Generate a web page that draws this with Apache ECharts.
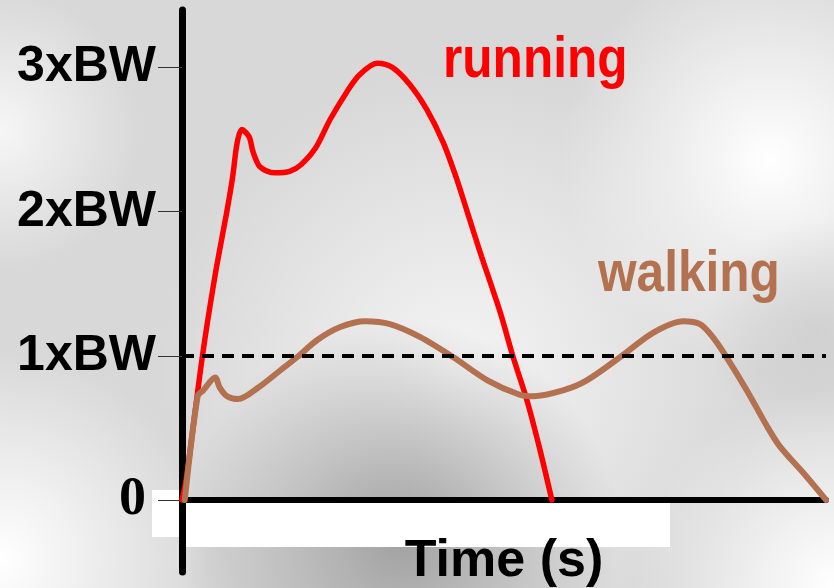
<!DOCTYPE html>
<html>
<head>
<meta charset="utf-8">
<script src="https://cdn.jsdelivr.net/npm/echarts@6/dist/echarts.min.js"></script>
<style>
  html, body { margin: 0; padding: 0; background: #d8d8d8; }
  #chart { width: 834px; height: 588px; }
</style>
</head>
<body>
<div id="chart"></div>
<script>
// ---- data (time in ms, force in multiples of body weight) ----
var runningTime  = [0, 5, 22, 36, 49, 55, 60, 65, 73, 77, 85, 101, 117, 130, 145, 161, 179, 193, 212, 229, 248, 266, 284, 299, 313, 324, 346, 360, 375, 389, 402];
var runningForce = [0, 0.16, 0.99, 1.56, 2.01, 2.24, 2.48, 2.57, 2.52, 2.42, 2.31, 2.27, 2.28, 2.33, 2.44, 2.64, 2.83, 2.95, 3.03, 3.00, 2.88, 2.71, 2.48, 2.22, 1.94, 1.72, 1.30, 0.99, 0.69, 0.35, 0];
var walkingTime  = [3, 17, 23, 36, 41, 49, 61, 83, 107, 125, 147, 172, 199, 226, 259, 295, 332, 367, 382, 414, 440, 476, 512, 545, 563, 577, 592, 614, 636, 650, 675, 700];
var walkingForce = [0, 0.72, 0.76, 0.85, 0.78, 0.72, 0.70, 0.78, 0.90, 0.99, 1.11, 1.20, 1.24, 1.22, 1.13, 0.99, 0.83, 0.73, 0.72, 0.76, 0.83, 0.99, 1.16, 1.24, 1.22, 1.13, 0.99, 0.76, 0.51, 0.37, 0.19, 0];
var yTickValues = [0, 1, 2, 3];
var yTickLabels = ['0', '1xBW', '2xBW', '3xBW'];
var referenceLevel = 1;
var seriesNames = ['running', 'walking'];
var xAxisTitle = 'Time (s)';

function pairs(xs, ys) { return xs.map(function (x, i) { return [x, ys[i]]; }); }

var RED = '#ff0000';
var BROWN = '#b3714f';

function blob(cx, cy, r, rgb, a) {
  return {
    type: 'circle', z: -20, silent: true,
    shape: { cx: cx, cy: cy, r: r },
    style: {
      fill: {
        type: 'radial', x: 0.5, y: 0.5, r: 0.5,
        colorStops: [
          { offset: 0, color: 'rgba(' + rgb + ',' + a + ')' },
          { offset: 1, color: 'rgba(' + rgb + ',0)' }
        ]
      }
    }
  };
}

var chart = echarts.init(document.getElementById('chart'), null, { renderer: 'canvas' });

var option = {
  backgroundColor: '#d8d8d8',
  animation: false,
  grid: { left: 182, right: 8, top: 10, bottom: 16, containLabel: false, outerBoundsMode: 'none' },
  xAxis: {
    type: 'value', min: 0, max: 700,
    axisLine: { show: true, onZero: true, lineStyle: { color: '#000', width: 6 } },
    axisTick: { show: false },
    axisLabel: { show: false },
    splitLine: { show: false },
    name: xAxisTitle, nameLocation: 'middle', nameGap: -36,
    nameTextStyle: { fontFamily: 'Liberation Sans', fontWeight: 'bold', fontSize: 52, color: '#000' }
  },
  yAxis: {
    type: 'value', min: -0.5, max: 3.4,
    axisLine: { show: true, lineStyle: { color: '#000', width: 7 } },
    axisTick: { show: true, customValues: yTickValues, length: 24, lineStyle: { color: '#333', width: 1 } },
    axisLabel: {
      show: true, customValues: yTickValues, margin: 26,
      fontFamily: 'Liberation Sans', fontWeight: 'bold', fontSize: 50, color: '#000',
      formatter: function (v) {
        var i = yTickValues.indexOf(v);
        var t = i >= 0 ? yTickLabels[i] : '';
        return v === 0 ? '{z|' + t + '}{sp|}' : t;
      },
      rich: {
        z: { fontFamily: 'Liberation Serif', fontWeight: 'bold', fontSize: 54, color: '#000' },
        sp: { width: 10 }
      }
    },
    splitLine: { show: false }
  },
  graphic: [
    { type: 'rect', z: -30, silent: true, shape: { x: 0, y: 0, width: 834, height: 588 }, style: { fill: '#d8d8d8' } },
    blob(460, 370, 300, '244,244,244', 1),
    blob(770, 160, 210, '255,255,255', 1),
    blob(0, 560, 210, '255,255,255', 1),
    blob(834, 588, 200, '255,255,255', 1),
    blob(0, 130, 140, '246,246,246', 1),
    blob(400, 540, 220, '150,150,150', 0.85),
    blob(815, 330, 110, '200,200,200', 0.6),
    { type: 'rect', z: -5, silent: true, shape: { x: 152, y: 490, width: 30, height: 47 }, style: { fill: '#ffffff' } },
    { type: 'rect', z: -5, silent: true, shape: { x: 185, y: 503, width: 485, height: 44 }, style: { fill: '#ffffff' } },
    { type: 'text', z: 10, x: 443, y: 61, scaleX: 0.87,
      style: { text: seriesNames[0], font: 'bold 57px "Liberation Sans"', fill: RED, verticalAlign: 'middle', align: 'left' } },
    { type: 'text', z: 10, x: 598, y: 275, scaleX: 0.87,
      style: { text: seriesNames[1], font: 'bold 57px "Liberation Sans"', fill: BROWN, verticalAlign: 'middle', align: 'left' } }
  ],
  series: [
    {
      name: seriesNames[0], type: 'line', data: pairs(runningTime, runningForce),
      showSymbol: false, smooth: 0.3, z: 3,
      lineStyle: { color: RED, width: 5.5, cap: 'round', join: 'round' },
      markLine: {
        silent: true, symbol: ['none', 'none'], label: { show: false },
        lineStyle: { color: '#000', width: 4, type: [12, 8] },
        data: [{ yAxis: referenceLevel }]
      }
    },
    {
      name: seriesNames[1], type: 'line', data: pairs(walkingTime, walkingForce),
      showSymbol: false, smooth: 0.3, z: 4,
      lineStyle: { color: BROWN, width: 6, cap: 'round', join: 'round' }
    }
  ]
};
chart.setOption(option);
</script>
</body>
</html>
